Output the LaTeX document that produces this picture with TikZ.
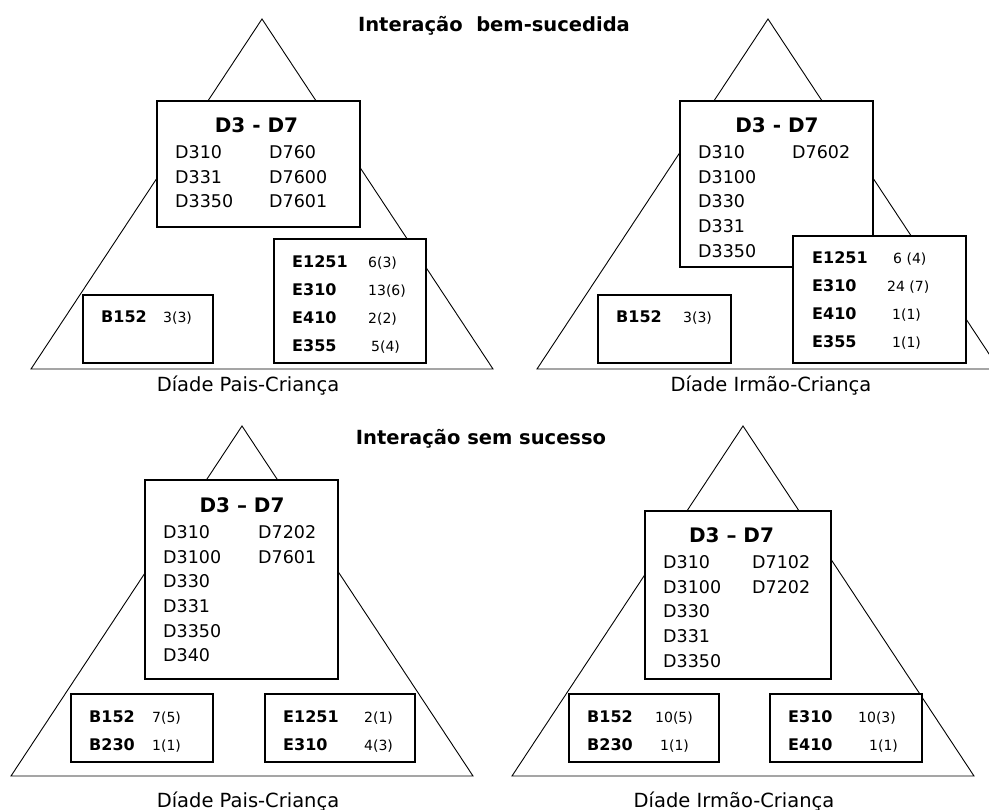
\documentclass[tikz,border=0pt]{standalone}
\usepackage{fontspec}
\setmainfont{DejaVu Sans}
\usetikzlibrary{fit}

\tikzset{
  tri/.style={draw, line width=0.9pt},
  box/.style={draw, fill=white, line width=1.3pt, inner sep=0pt},
  head/.style={anchor=base, inner sep=0pt, font=\bfseries\fontsize{20}{20}\selectfont},
  code/.style={anchor=base west, inner sep=0pt, align=left, font=\fontsize{17.5}{24.7}\selectfont},
  ecode/.style={anchor=base west, inner sep=0pt, align=left, font=\bfseries\fontsize{16}{28}\selectfont},
  num/.style={anchor=base west, inner sep=0pt, align=left, font=\fontsize{14}{28}\selectfont},
  dyad/.style={anchor=base, inner sep=0pt, font=\fontsize{19.5}{19.5}\selectfont},
  title/.style={anchor=base, inner sep=0pt, font=\bfseries\fontsize{19.5}{19.5}\selectfont}
}

\begin{document}
\begin{tikzpicture}[x=1pt, y=-1pt]
  \useasboundingbox (0,0) rectangle (989,810);

  \node[title] (okT) at (494,32)  {Interação~~bem-sucedida};
  \node[title] (noT) at (481,445) {Interação sem sucesso};

  % bem-sucedida, pais
  \draw[tri] (262,19) -- (31,369) -- (493,369) -- cycle;
  \node[box, fit={(157,101) (360,227)}] (okpcD) {};
  \node[head] (okpcH)  at (256.5,133) {D3 - D7};
  \node[code] (okpcC1) at (175,207.8) {D310\\D331\\D3350};
  \node[code] (okpcC2) at (269,207.8) {D760\\D7600\\D7601};
  \node[box, fit={(274,239) (426,363)}] (okpcE) {};
  \node[ecode] (okpcEc) at (292,352) {E1251\\E310\\E410\\E355};
  \node[num]   (okpcEn) at (368,352) {6(3)\\13(6)\\2(2)\\\hspace*{3pt}5(4)};
  \node[box, fit={(83,295) (213,363)}] (okpcB) {};
  \node[ecode] (okpcBc) at (101,323) {B152};
  \node[num]   (okpcBn) at (163,323) {3(3)};
  \node[dyad]  (okpcL)  at (248,392) {Díade Pais-Criança};

  % bem-sucedida, irmao
  \draw[tri] (768,19) -- (537,369) -- (999,369) -- cycle;
  \node[box, fit={(680,101) (873,267)}] (okicD) {};
  \node[head] (okicH)  at (777,133) {D3 - D7};
  \node[code] (okicC1) at (698,257.2) {D310\\D3100\\D330\\D331\\D3350};
  \node[code] (okicC2) at (792,158.4) {D7602};
  \node[box, fit={(793,236) (966,363)}] (okicE) {};
  \node[ecode] (okicEc) at (812,348) {E1251\\E310\\E410\\E355};
  \node[num]   (okicEn) at (887,348) {\hspace*{6pt}6 (4)\\24 (7)\\\hspace*{5pt}1(1)\\\hspace*{5pt}1(1)};
  \node[box, fit={(598,295) (731,363)}] (okicB) {};
  \node[ecode] (okicBc) at (616,323) {B152};
  \node[num]   (okicBn) at (683,323) {3(3)};
  \node[dyad]  (okicL)  at (771,392) {Díade Irmão-Criança};

  % sem sucesso, pais
  \draw[tri] (242,426) -- (11,776) -- (473,776) -- cycle;
  \node[box, fit={(145,480) (338,679)}] (nopcD) {};
  \node[head] (nopcH)  at (242,512) {D3 – D7};
  \node[code] (nopcC1) at (163,661.9) {D310\\D3100\\D330\\D331\\D3350\\D340};
  \node[code] (nopcC2) at (258,563.1) {D7202\\D7601};
  \node[box, fit={(71,694) (213,762)}] (nopcB) {};
  \node[ecode] (nopcBc) at (89,750)  {B152\\B230};
  \node[num]   (nopcBn) at (152,750) {7(5)\\1(1)};
  \node[box, fit={(265,694) (415,762)}] (nopcE) {};
  \node[ecode] (nopcEc) at (283,750) {E1251\\E310};
  \node[num]   (nopcEn) at (364,750) {2(1)\\4(3)};
  \node[dyad]  (nopcL)  at (248,807) {Díade Pais-Criança};

  % sem sucesso, irmao
  \draw[tri] (743,426) -- (512,776) -- (974,776) -- cycle;
  \node[box, fit={(645,511) (831,679)}] (noicD) {};
  \node[head] (noicH)  at (731.5,542) {D3 – D7};
  \node[code] (noicC1) at (663,667.2) {D310\\D3100\\D330\\D331\\D3350};
  \node[code] (noicC2) at (752,593.1) {D7102\\D7202};
  \node[box, fit={(569,694) (719,762)}] (noicB) {};
  \node[ecode] (noicBc) at (587,750) {B152\\B230};
  \node[num]   (noicBn) at (655,750) {10(5)\\\hspace*{5pt}1(1)};
  \node[box, fit={(770,694) (922,762)}] (noicE) {};
  \node[ecode] (noicEc) at (788,750) {E310\\E410};
  \node[num]   (noicEn) at (858,750) {10(3)\\\hspace*{11pt}1(1)};
  \node[dyad]  (noicL)  at (734,807) {Díade Irmão-Criança};
\end{tikzpicture}
\end{document}
